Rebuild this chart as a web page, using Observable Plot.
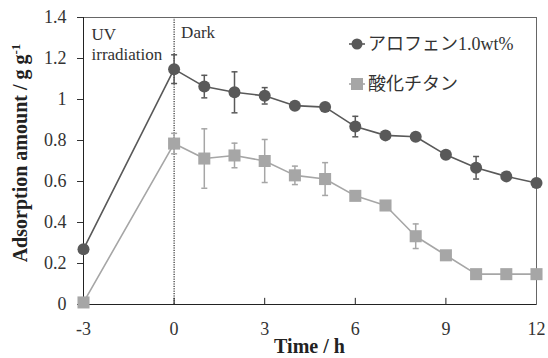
<!DOCTYPE html>
<html>
<head>
<meta charset="utf-8">
<script src="https://cdn.jsdelivr.net/npm/d3@7"></script>
<script src="https://cdn.jsdelivr.net/npm/@observablehq/plot@0.6"></script>
<style>
  html, body { margin: 0; padding: 0; background: #fff; }
  svg text { font-family: "Liberation Serif", "Times New Roman", "DejaVu Serif", "Noto Sans CJK JP", serif; }
</style>
</head>
<body>
<div id="chart"></div>
<script>
const times = [-3, 0, 1, 2, 3, 4, 5, 6, 7, 8, 9, 10, 11, 12];
const allophane = [0.27, 1.148, 1.063, 1.035, 1.018, 0.97, 0.963, 0.868, 0.825, 0.818, 0.73, 0.667, 0.625, 0.593];
const allophaneErr = [0, 0.07, 0.055, 0.1, 0.04, 0, 0, 0.05, 0, 0, 0, 0.055, 0, 0];
const tio2 = [0.01, 0.785, 0.712, 0.727, 0.70, 0.63, 0.612, 0.53, 0.483, 0.333, 0.24, 0.148, 0.148, 0.148];
const tio2Err = [0, 0.05, 0.145, 0.06, 0.105, 0.045, 0.08, 0, 0, 0.06, 0, 0, 0, 0];
const xTicks = [-3, 0, 3, 6, 9, 12];
const yTicks = [0, 0.2, 0.4, 0.6, 0.8, 1, 1.2, 1.4];
const seriesNames = ["アロフェン1.0wt%", "酸化チタン"];
const colors = ["#595959", "#a6a6a6"];

const s1 = times.map((t, i) => ({t, v: allophane[i], e: allophaneErr[i]}));
const s2 = times.map((t, i) => ({t, v: tio2[i], e: tio2Err[i]}));

const cap = { draw(ctx) { ctx.moveTo(-3, 0); ctx.lineTo(3, 0); } };

function errorMarks(data, color) {
  const d = data.filter(p => p.e > 0);
  return [
    Plot.ruleX(d, {x: "t", y1: p => p.v - p.e, y2: p => p.v + p.e, stroke: color, strokeWidth: 1.5}),
    Plot.dot(d, {x: "t", y: p => p.v + p.e, symbol: cap, r: 3, stroke: color, strokeWidth: 1.5, fill: "none"}),
    Plot.dot(d, {x: "t", y: p => p.v - p.e, symbol: cap, r: 3, stroke: color, strokeWidth: 1.5, fill: "none"})
  ];
}

const chart = Plot.plot({
  width: 548,
  height: 358,
  marginLeft: 83,
  marginRight: 12,
  marginTop: 17,
  marginBottom: 54,
  style: {fontFamily: '"Liberation Serif", "Times New Roman", serif', fontSize: "18px", color: "#333", background: "#fff"},
  x: {domain: [-3, 12]},
  y: {domain: [0, 1.4]},
  marks: [
    Plot.ruleX([0], {stroke: "#000", strokeDasharray: "1.2,1.2", strokeWidth: 1}),
    Plot.frame({stroke: "#666"}),
    Plot.ruleY([0], {stroke: "#222"}),
    Plot.ruleX([-3], {stroke: "#222"}),
    Plot.ruleX(xTicks.slice(1, -1), {y1: 0, y2: 0.03, stroke: "#222"}),
    Plot.axisX({ticks: xTicks, tickSize: 0, tickPadding: 18, tickFormat: d => String(d), label: null, fontSize: 18}),
    Plot.axisY({ticks: yTicks, tickSize: 6, tickPadding: 11, tickFormat: d3.format("~g"), label: null, fontSize: 18}),
    Plot.text(["UV\nirradiation"], {frameAnchor: "top-left", dx: 8, dy: 8, lineAnchor: "top", lineHeight: 1.2, textAnchor: "start", fontSize: 17, fill: "#333"}),
    Plot.text(["Dark"], {x: () => 0, frameAnchor: "top", dx: 7, dy: 8, lineAnchor: "top", textAnchor: "start", fontSize: 17, fill: "#333"}),
    Plot.line(s1, {x: "t", y: "v", stroke: colors[0], strokeWidth: 1.6}),
    Plot.line(s2, {x: "t", y: "v", stroke: colors[1], strokeWidth: 1.6}),
    ...errorMarks(s1, colors[0]),
    ...errorMarks(s2, colors[1]),
    Plot.dot(s1, {x: "t", y: "v", r: 6, fill: colors[0], symbol: "circle"}),
    Plot.dot(s2, {x: "t", y: "v", r: 6.8, fill: colors[1], symbol: "square"})
  ]
});

const svg = d3.select(chart);
// Axis titles
svg.append("text")
  .attr("transform", "translate(27,153) rotate(-90)")
  .attr("text-anchor", "middle")
  .style("font-weight", "bold")
  .style("font-size", "20px")
  .attr("fill", "#222")
  .call(t => {
    t.append("tspan").text("Adsorption amount / g g");
    t.append("tspan").attr("dy", "-0.55em").style("font-size", "13px").text("-1");
  });
svg.append("text")
  .attr("x", 309.5).attr("y", 353)
  .attr("text-anchor", "middle")
  .style("font-weight", "bold")
  .style("font-size", "20px")
  .attr("fill", "#222")
  .text("Time / h");

// Legend
const lg = svg.append("g").style("font-size", "18px").attr("fill", "#333").attr("text-anchor", "start");
[0, 1].forEach(i => {
  const y = 44 + i * 40;
  lg.append("line").attr("x1", 349).attr("x2", 365).attr("y1", y).attr("y2", y).attr("stroke", colors[i]).attr("stroke-width", 1.6);
  if (i === 0) lg.append("circle").attr("cx", 357).attr("cy", y).attr("r", 5.5).attr("fill", colors[i]);
  else lg.append("rect").attr("x", 351).attr("y", y - 6).attr("width", 12).attr("height", 12).attr("fill", colors[i]);
  lg.append("text").attr("x", 368).attr("y", y).attr("dy", "0.35em").attr("text-anchor", "start").text(seriesNames[i]);
});

document.getElementById("chart").append(chart);
</script>
</body>
</html>
